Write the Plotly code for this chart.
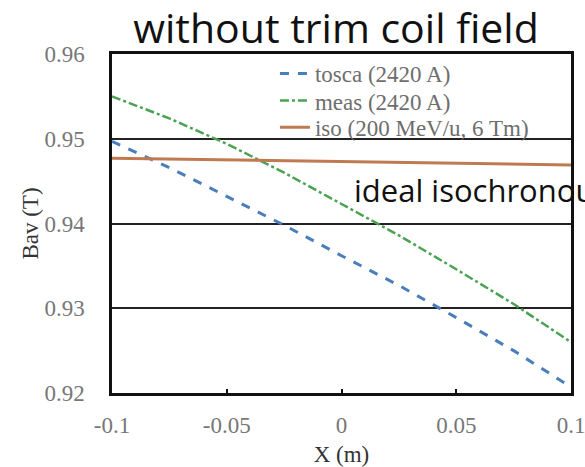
import plotly.graph_objects as go

# Average field Bav (T) against radial position X (m)
x_tosca = [-0.1, -0.075, -0.05, -0.025, 0.0, 0.025, 0.05, 0.075, 0.1]
b_tosca = [0.9497, 0.9466, 0.9432, 0.9398, 0.9362, 0.9327, 0.9289, 0.9250, 0.9207]

x_meas = [-0.1, -0.075, -0.05, -0.025, 0.0, 0.025, 0.05, 0.075, 0.1]
b_meas = [0.9550, 0.9524, 0.9494, 0.9460, 0.9423, 0.9386, 0.9346, 0.9305, 0.9260]

x_iso = [-0.1, -0.05, 0.0, 0.05, 0.1]
b_iso = [0.9477, 0.9475, 0.9473, 0.9471, 0.9469]

x_ticks = [-0.1, -0.05, 0, 0.05, 0.1]
x_tick_text = ["-0.1", "-0.05", "0", "0.05", "0.1"]
y_ticks = [0.92, 0.93, 0.94, 0.95, 0.96]
y_tick_text = ["0.92", "0.93", "0.94", "0.95", "0.96"]

serif = "Liberation Serif, Times New Roman, serif"
sans = "Open Sans, sans-serif"

fig = go.Figure()
fig.add_trace(go.Scatter(
    x=x_tosca, y=b_tosca, mode="lines", name="tosca (2420 A)",
    line=dict(color="#4a7ebb", width=3, dash="dash"), legend="legend"))
fig.add_trace(go.Scatter(
    x=x_meas, y=b_meas, mode="lines", name="meas (2420 A)",
    line=dict(color="#4aa253", width=2.5, dash="dashdot"), legend="legend2"))
fig.add_trace(go.Scatter(
    x=x_iso, y=b_iso, mode="lines", name="iso (200 MeV/u, 6 Tm)",
    line=dict(color="#c07a52", width=3), legend="legend3"))

# one legend box per series so the rows sit at a tight spacing
legend_common = dict(
    x=0.355, xanchor="left", yanchor="top",
    bgcolor="rgba(0,0,0,0)", borderwidth=0,
    font=dict(family=serif, size=23, color="#6e6e6e"),
    itemwidth=30,
)

fig.update_layout(
    width=585, height=467,
    margin=dict(l=112, r=14, t=54, b=74, autoexpand=False),
    paper_bgcolor="white", plot_bgcolor="white",
    showlegend=True,
    legend=dict(legend_common, y=1.006),
    legend2=dict(legend_common, y=0.926),
    legend3=dict(legend_common, y=0.847),
    title=dict(
        text="without trim coil field",
        x=0.488, xref="paper", xanchor="center", y=0.938, yanchor="middle",
        font=dict(family=sans, size=41, color="#111111"),
    ),
    xaxis=dict(
        range=[-0.1, 0.1], tickvals=x_ticks, ticktext=x_tick_text,
        showgrid=False, zeroline=False, automargin=False,
        ticklabeloverflow="allow",
        showline=True, linecolor="#111111", linewidth=2.5, mirror=True,
        ticks="inside", ticklen=4, tickwidth=2, tickcolor="#111111",
        ticklabelstandoff=10,
        tickfont=dict(family=serif, size=23, color="#777777"),
        title=dict(text="X (m)", standoff=16,
                   font=dict(family=serif, size=23, color="#333333")),
    ),
    yaxis=dict(
        range=[0.92, 0.96], tickvals=y_ticks, ticktext=y_tick_text,
        showgrid=True, gridcolor="#222222", gridwidth=1.5, zeroline=False,
        automargin=False, ticklabeloverflow="allow",
        showline=True, linecolor="#111111", linewidth=2.5, mirror=True,
        ticks="", ticklabelstandoff=20,
        tickfont=dict(family=serif, size=23, color="#777777"),
        title=dict(text="Bav (T)", standoff=0,
                   font=dict(family=serif, size=23, color="#333333")),
    ),
    annotations=[dict(
        text="ideal isochronous", xref="paper", yref="paper",
        x=(352 - 112) / 459, y=(393 - 190) / 339,
        xanchor="left", yanchor="middle", showarrow=False,
        font=dict(family=sans, size=31, color="#111111"),
    )],
)

fig.write_html("out.html")
